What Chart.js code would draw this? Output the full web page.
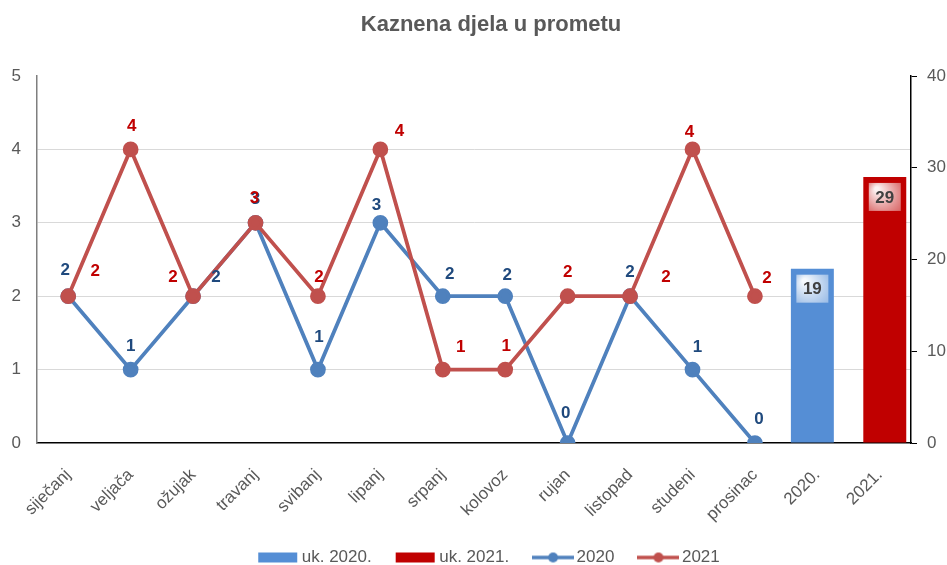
<!DOCTYPE html>
<html>
<head>
<meta charset="utf-8">
<script src="https://cdn.jsdelivr.net/npm/chart.js@4.4.1/dist/chart.umd.min.js"></script>
<style>
html, body { margin: 0; padding: 0; background: #fff; }
#wrap { width: 947px; height: 565px; }
</style>
</head>
<body>
<div id="wrap"><canvas id="chart"></canvas></div>
<script>
const categories = ['siječanj', 'veljača', 'ožujak', 'travanj', 'svibanj', 'lipanj', 'srpanj',
    'kolovoz', 'rujan', 'listopad', 'studeni', 'prosinac', '2020.', '2021.'];
const months2020 = [2, 1, 2, 3, 1, 3, 2, 2, 0, 2, 1, 0, null, null];
const months2021 = [2, 4, 2, 3, 2, 4, 1, 1, 2, 2, 4, 2, null, null];
const total2020 = [null, null, null, null, null, null, null, null, null, null, null, null, 19, null];
const total2021 = [null, null, null, null, null, null, null, null, null, null, null, null, null, 29];
const seriesNames = ['uk. 2020.', 'uk. 2021.', '2020', '2021'];

const FONT = '"Liberation Sans", Arial, sans-serif';
const GREY = '#595959';
const BLUE = '#4f81bd', RED = '#c0504d';
const BAR_BLUE = '#558ed5', BAR_RED = '#c00000';

// where each point label sits relative to its point (Excel had them hand-placed)
const blueLabelOffsets = [[-3,-26],[0,-23],[23,-19],[0,-23],[1,-32],[-4,-17],[7,-22],[2,-21],[-2,-30],[0,-24],[5,-22],[4,-24]];
const redLabelOffsets = [[27,-25],[1,-23],[-20,-19],[-1,-24],[1,-19],[19,-18],[18,-22],[1,-23],[0,-24],[36,-19],[-3,-17],[12,-18]];

const LEGEND_H = 20;
const LEGEND_DX = 18;
const LEGEND_DY = -25;

function legendIcon(color, isLine) {
    const c = document.createElement('canvas');
    c.width = 42; c.height = 12;
    const g = c.getContext('2d');
    if (isLine) {
        g.strokeStyle = color; g.lineWidth = 3.5;
        g.beginPath(); g.moveTo(0, 6); g.lineTo(42, 6); g.stroke();
        g.fillStyle = color;
        g.beginPath(); g.arc(21, 6, 5, 0, Math.PI * 2); g.fill();
    } else {
        g.fillStyle = color;
        g.fillRect(1, 1, 39, 10);
    }
    return c;
}

const titlePlugin = {
    id: 'fixedTitle',
    afterDraw(chart) {
        const ctx = chart.ctx;
        ctx.save();
        ctx.font = 'bold 22px ' + FONT;
        ctx.fillStyle = GREY;
        ctx.textAlign = 'center';
        ctx.textBaseline = 'middle';
        ctx.fillText('Kaznena djela u prometu', 491, 25);
        ctx.restore();
    }
};

// squeeze the legend box so the rotated labels keep their room, and nudge it into place
const legendTweak = {
    id: 'legendTweak',
    afterInit(chart) {
        const leg = chart.legend;
        if (!leg) return;
        const fit = leg.fit.bind(leg);
        leg.fit = function() { fit(); this.height = LEGEND_H; };
        const draw = leg.draw.bind(leg);
        leg.draw = function() {
            const ctx = this.ctx;
            const bottom = this.bottom;
            this.bottom = this.top + 80; // legend clips to its own box
            ctx.save();
            ctx.translate(LEGEND_DX, LEGEND_DY);
            draw();
            ctx.restore();
            this.bottom = bottom;
        };
    }
};

const valueLabels = {
    id: 'valueLabels',
    afterDatasetsDraw(chart) {
        const ctx = chart.ctx;
        ctx.save();
        ctx.textAlign = 'center';
        ctx.textBaseline = 'middle';
        ctx.font = 'bold 17px ' + FONT;
        [[2, blueLabelOffsets, '#1f497d'], [3, redLabelOffsets, '#c00000']].forEach(([di, offs, col]) => {
            const meta = chart.getDatasetMeta(di);
            if (meta.hidden) return;
            const vals = chart.data.datasets[di].data;
            meta.data.forEach((pt, i) => {
                if (vals[i] == null) return;
                ctx.fillStyle = col;
                ctx.fillText(String(vals[i]), pt.x + offs[i][0], pt.y + offs[i][1]);
            });
        });
        [0, 1].forEach(di => {
            const meta = chart.getDatasetMeta(di);
            if (meta.hidden) return;
            const vals = chart.data.datasets[di].data;
            meta.data.forEach((bar, i) => {
                if (vals[i] == null) return;
                const w = 32, h = 28, x = bar.x - w / 2, y = bar.y + 6;
                const grd = ctx.createRadialGradient(x + 8, y + 6, 2, x + w / 2, y + h / 2, 24);
                grd.addColorStop(0, 'rgba(255,255,255,0.95)');
                grd.addColorStop(1, 'rgba(255,255,255,0.35)');
                ctx.fillStyle = grd;
                ctx.fillRect(x, y, w, h);
                ctx.fillStyle = '#404040';
                ctx.fillText(String(vals[i]), bar.x, y + h / 2 + 1);
            });
        });
        ctx.restore();
    }
};

new Chart(document.getElementById('chart'), {
    data: {
        labels: categories,
        datasets: [
            {
                type: 'bar', label: seriesNames[0], data: total2020, yAxisID: 'y1',
                backgroundColor: BAR_BLUE, barPercentage: 4.3, categoryPercentage: 0.32, order: 3
            },
            {
                type: 'bar', label: seriesNames[1], data: total2021, yAxisID: 'y1',
                backgroundColor: BAR_RED, barPercentage: 4.3, categoryPercentage: 0.32, order: 3
            },
            {
                type: 'line', label: seriesNames[2], data: months2020, yAxisID: 'y',
                borderColor: BLUE, backgroundColor: BLUE, borderWidth: 3.75,
                pointRadius: 6, pointHoverRadius: 6.5, tension: 0, order: 2
            },
            {
                type: 'line', label: seriesNames[3], data: months2021, yAxisID: 'y',
                borderColor: RED, backgroundColor: RED, borderWidth: 3.75,
                pointRadius: 6, pointHoverRadius: 6.5, tension: 0, order: 1
            }
        ]
    },
    options: {
        responsive: true,
        maintainAspectRatio: false,
        animation: false,
        layout: { padding: { top: 76, left: 0, right: 0, bottom: 0 } },
        scales: {
            x: {
                offset: true,
                grid: { display: false },
                border: { color: '#000', width: 1.5 },
                ticks: {
                    color: GREY, font: { family: FONT, size: 17 },
                    maxRotation: 45, minRotation: 45, padding: 14
                },
                afterFit(s) { s.height = 565 - LEGEND_H - 443; }
            },
            y: {
                position: 'left', min: 0, max: 5,
                ticks: { stepSize: 1, color: GREY, font: { family: FONT, size: 17 }, padding: 16 },
                grid: {
                    drawTicks: false,
                    color: ctx => (ctx.tick && (ctx.tick.value === 0 || ctx.tick.value === 5)) ? 'rgba(0,0,0,0)' : '#d9d9d9',
                    lineWidth: 1
                },
                border: { color: '#7f7f7f', width: 1.5 },
                afterFit(s) { s.width = 37; }
            },
            y1: {
                position: 'right', min: 0, max: 40,
                ticks: { stepSize: 10, color: GREY, font: { family: FONT, size: 17 }, padding: 10 },
                grid: { drawOnChartArea: false, drawTicks: true, tickLength: 6, color: '#000' },
                border: { color: '#000', width: 1.5 },
                afterFit(s) { s.width = 36; }
            }
        },
        plugins: {
            title: { display: false },
            tooltip: { enabled: true },
            legend: {
                position: 'bottom',
                labels: {
                    color: GREY,
                    font: { family: FONT, size: 17 },
                    usePointStyle: true,
                    pointStyleWidth: 30,
                    boxHeight: 12,
                    padding: 29,
                    generateLabels(chart) {
                        return chart.data.datasets.map((ds, i) => ({
                            text: ds.label,
                            fontColor: GREY,
                            hidden: !chart.isDatasetVisible(i),
                            datasetIndex: i,
                            pointStyle: legendIcon(i < 2 ? ds.backgroundColor : ds.borderColor, i >= 2),
                            lineWidth: 0,
                            strokeStyle: 'rgba(0,0,0,0)',
                            fillStyle: 'rgba(0,0,0,0)'
                        }));
                    }
                }
            }
        }
    },
    plugins: [titlePlugin, legendTweak, valueLabels]
});
</script>
</body>
</html>
